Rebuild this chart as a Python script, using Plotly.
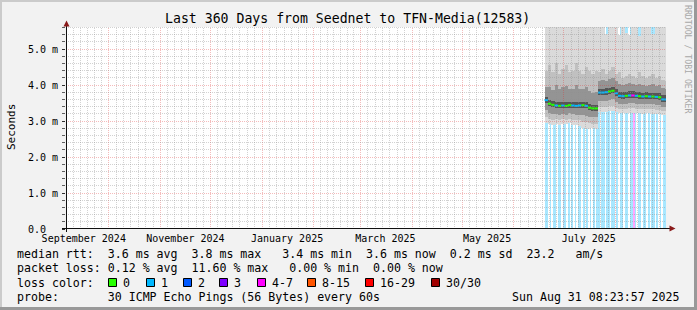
import math
import pandas as pd
import plotly.graph_objects as go

# ---------------- data ----------------
TITLE = "Last 360 Days from Seednet to TFN-Media(12583)"
Y_TITLE = "Seconds"
SIDE_TEXT = "RRDTOOL / TOBI OETIKER"
RANGE_START = "2024-09-05 08:23:57"
RANGE_END = "2025-08-31 08:23:57"
X_TICK_DATES = ["2024-09-16", "2024-11-16", "2025-01-16", "2025-03-16", "2025-05-16", "2025-07-16"]
X_TICK_TEXT = ["September 2024", "November 2024", "January 2025", "March 2025", "May 2025", "July 2025"]
Y_TICK_VALS = [0, 1, 2, 3, 4, 5]
Y_TICK_TEXT = ["0.0\u00a0\u00a0", "1.0 m", "2.0 m", "3.0 m", "4.0 m", "5.0 m"]

SERIES_START = "2025-06-19 12:00"   # first sample
SMOKE_STEP_DAYS = 2                 # median / smoke resolution
LOSS_STEP_DAYS = 1                  # loss background resolution

# median RTT (ms), one value per 2 days
median_ms = [3.58, 3.48, 3.45, 3.43, 3.42, 3.43, 3.42, 3.44, 3.43, 3.42, 3.43, 3.44, 3.42, 3.37, 3.35, 3.35,
             3.79, 3.79, 3.80, 3.82, 3.84, 3.77, 3.70, 3.69, 3.70, 3.71, 3.71, 3.70, 3.69, 3.68, 3.69, 3.68,
             3.68, 3.67, 3.66, 3.60, 3.60]
# loss class of the median line (index into LOSS_LABELS)
median_loss = [1, 0, 0, 1, 0, 1, 0, 0, 1, 1, 1, 0, 1, 0, 0, 0,
               1, 1, 1, 0, 0, 1, 1, 1, 0, 1, 4, 1, 0, 1, 0, 1, 0, 1, 0, 1, 1]
# smoke envelopes (ms): outermost (lo1/hi1) to innermost (lo4/hi4)
smoke_lo1 = [2.95, 2.92, 2.90, 2.92, 2.90, 2.93, 2.92, 2.95, 2.90, 2.88, 2.85, 2.80, 2.78, 2.78, 2.80, 2.78,
             3.25, 3.26, 3.25, 3.27, 3.28, 3.24, 3.22, 3.22, 3.21, 3.23, 3.23, 3.22, 3.22, 3.20, 3.22, 3.21,
             3.20, 3.20, 3.20, 3.18, 3.18]
smoke_hi1 = [6.20, 6.00, 6.10, 5.90, 6.20, 6.00, 6.10, 6.00, 5.90, 6.20, 6.00, 6.10, 6.00, 6.20, 6.00, 5.90,
             6.10, 6.00, 5.42, 6.00, 6.10, 6.00, 5.38, 6.00, 5.45, 5.40, 6.00, 6.10, 5.35, 6.00, 6.10, 6.00,
             5.42, 6.00, 6.10, 6.00, 6.00]
smoke_lo2 = [3.10, 3.05, 3.04, 3.05, 3.03, 3.05, 3.04, 3.06, 3.04, 3.02, 3.02, 2.98, 2.96, 2.94, 2.93, 2.93,
             3.38, 3.40, 3.40, 3.42, 3.42, 3.37, 3.33, 3.33, 3.33, 3.35, 3.35, 3.33, 3.33, 3.32, 3.33, 3.32,
             3.32, 3.31, 3.31, 3.28, 3.28]
smoke_hi2 = [4.40, 4.55, 4.35, 4.60, 4.30, 4.45, 4.55, 4.35, 4.40, 4.60, 4.40, 4.30, 4.50, 4.40, 4.30, 4.40,
             4.35, 4.45, 4.30, 4.40, 4.50, 4.30, 4.35, 4.20, 4.25, 4.30, 4.25, 4.20, 4.35, 4.25, 4.20, 4.25,
             4.30, 4.20, 4.25, 4.15, 4.10]
smoke_lo3 = [3.30, 3.22, 3.20, 3.19, 3.18, 3.19, 3.18, 3.21, 3.19, 3.17, 3.18, 3.17, 3.15, 3.12, 3.10, 3.10,
             3.55, 3.56, 3.56, 3.58, 3.60, 3.53, 3.48, 3.47, 3.48, 3.49, 3.49, 3.48, 3.47, 3.46, 3.47, 3.46,
             3.46, 3.45, 3.44, 3.40, 3.40]
smoke_hi3 = [3.95, 3.95, 3.85, 4.00, 3.90, 3.95, 3.98, 3.88, 3.90, 4.00, 3.90, 3.88, 3.95, 3.82, 3.78, 3.80,
             4.12, 4.15, 4.12, 4.18, 4.20, 4.10, 4.02, 4.00, 4.02, 4.05, 4.02, 4.00, 4.02, 4.00, 3.98, 4.00,
             4.02, 3.98, 4.00, 3.92, 3.90]
smoke_lo4 = [3.50, 3.41, 3.38, 3.36, 3.35, 3.36, 3.35, 3.37, 3.36, 3.35, 3.36, 3.37, 3.35, 3.30, 3.28, 3.28,
             3.72, 3.72, 3.73, 3.75, 3.77, 3.70, 3.63, 3.62, 3.63, 3.64, 3.64, 3.63, 3.62, 3.61, 3.62, 3.61,
             3.61, 3.60, 3.59, 3.53, 3.53]
smoke_hi4 = [3.68, 3.58, 3.55, 3.53, 3.52, 3.53, 3.52, 3.54, 3.53, 3.52, 3.53, 3.54, 3.52, 3.47, 3.45, 3.45,
             3.90, 3.90, 3.91, 3.93, 3.95, 3.88, 3.81, 3.80, 3.81, 3.82, 3.82, 3.81, 3.80, 3.79, 3.80, 3.79,
             3.79, 3.78, 3.77, 3.71, 3.71]
# daily loss class for the background bars (0 = none)
loss_daily = [1, 1, 0, 1, 0, 1, 1, 0, 1, 1, 0, 1, 1, 0, 1, 0, 1, 0, 1, 0, 1, 1, 0, 1, 0, 1, 0, 1, 0, 1, 0, 1,
              1, 0, 1, 1, 0, 1, 1, 0, 1, 1, 0, 1, 0, 1, 1, 0, 1, 1, 0, 1, 1, 4, 1, 0, 1, 1, 0, 1, 1, 0, 1, 0,
              1, 1, 0, 1, 0, 1, 0, 1, 1]

LOSS_LABELS = ["0", "1", "2", "3", "4-7", "8-15", "16-29", "30/30"]
LOSS_COLORS = ["#26ff00", "#00b8ff", "#0059ff", "#7e00ff", "#ff00ff", "#ff5500", "#ff0000", "#a10000"]
LOSS_PALE = ["rgba(38,255,0,0.35)", "rgba(0,184,255,0.34)", "rgba(0,89,255,0.34)", "rgba(126,0,255,0.34)",
             "rgba(255,0,255,0.34)", "rgba(255,85,0,0.34)", "rgba(255,0,0,0.34)", "rgba(161,0,0,0.34)"]

INFO_LINES = [
    "median rtt:  3.6 ms avg  3.8 ms max   3.4 ms min  3.6 ms now  0.2 ms sd  23.2   am/s",
    "packet loss: 0.12 % avg  11.60 % max   0.00 % min  0.00 % now",
    "loss color:",
    "probe:       30 ICMP Echo Pings (56 Bytes) every 60s",
]
STAMP = "Sun Aug 31 08:23:57 2025"

# ---------------- geometry / style ----------------
W, H = 697, 310
PL, PR, PT, PB = 66, 666, 27, 229     # plot box in pixels
YMAX = (PB - PT) / 36.0               # 36 px per ms
FONT = "DejaVu Sans Mono"
SMOKE_COLORS = ["#dadada", "#c0c0c0", "#949494", "#565656"]
GRID_MINOR = "rgba(143,143,143,0.40)"
GRID_MAJOR = "rgba(222,48,48,0.33)"
ARROW = "#8a1a1a"


def fx(p):
    return (p - PL) / (PR - PL)


def fy(p):
    return (PB - p) / (PB - PT)


x0 = pd.Timestamp(RANGE_START)
x1 = pd.Timestamp(RANGE_END)


def xpix(t):
    return PL + (t - x0) / (x1 - x0) * (PR - PL)


t_start = pd.Timestamp(SERIES_START)
sstep = pd.Timedelta(days=SMOKE_STEP_DAYS)
lstep = pd.Timedelta(days=LOSS_STEP_DAYS)
smoke_x = [t_start + sstep * k + sstep / 2 for k in range(len(median_ms))]
loss_x = [t_start + lstep * i + lstep / 2 for i in range(len(loss_daily))]

fig = go.Figure()

# loss background bars
lx = [loss_x[i] for i, v in enumerate(loss_daily) if v > 0]
lc = [LOSS_PALE[v] for v in loss_daily if v > 0]
fig.add_trace(go.Bar(x=lx, y=[YMAX] * len(lx), base=0, width=lstep.total_seconds() * 1000,
                     marker=dict(color=lc, line=dict(width=0)), hoverinfo="skip"))

# smoke bands
bands = [(smoke_lo1, smoke_hi1), (smoke_lo2, smoke_hi2), (smoke_lo3, smoke_hi3), (smoke_lo4, smoke_hi4)]
for (lo, hi), col in zip(bands, SMOKE_COLORS):
    fig.add_trace(go.Bar(x=smoke_x, base=lo, y=[h - l for l, h in zip(lo, hi)],
                         width=sstep.total_seconds() * 1000,
                         marker=dict(color=col, line=dict(width=0)), hoverinfo="skip"))

# median line coloured by loss
for c in sorted(set(median_loss)):
    xs, ys = [], []
    for k, (m, lcl) in enumerate(zip(median_ms, median_loss)):
        if lcl == c:
            xs += [t_start + sstep * k, t_start + sstep * (k + 1), None]
            ys += [m, m, None]
    fig.add_trace(go.Scatter(x=xs, y=ys, mode="lines", line=dict(color=LOSS_COLORS[c], width=2),
                             hoverinfo="skip", connectgaps=False))

shapes = []


def vline(xp, color):
    shapes.append(dict(type="line", xref="paper", yref="paper", x0=fx(xp), x1=fx(xp), y0=0, y1=1,
                       line=dict(color=color, width=1, dash="1px,1px"), layer="above"))


def hline(yp, color):
    shapes.append(dict(type="line", xref="paper", yref="paper", x0=0, x1=1, y0=fy(yp), y1=fy(yp),
                       line=dict(color=color, width=1, dash="1px,1px"), layer="above"))


# vertical grid
months = pd.date_range("2024-09-01", "2025-09-01", freq="MS")
for a, b in zip(months[:-1], months[1:]):
    for j in range(1, 7):
        t = a + (b - a) * j / 7
        if x0 < t < x1:
            vline(math.floor(xpix(t)) + 0.5, GRID_MINOR)
for a in months:
    if x0 < a < x1:
        vline(math.floor(xpix(a)) + 0.5, GRID_MAJOR)

# horizontal grid
for i in range(1, 29):
    v = i * 0.2
    yp = math.floor(PB - 36 * v) + 0.5
    hline(yp, GRID_MAJOR if i % 5 == 0 else GRID_MINOR)

# axes and arrows
shapes.append(dict(type="line", xref="paper", yref="paper", x0=fx(62), x1=fx(670), y0=fy(228.5), y1=fy(228.5),
                   line=dict(color="#101010", width=1), layer="above"))
shapes.append(dict(type="line", xref="paper", yref="paper", x0=fx(66.5), x1=fx(66.5), y0=fy(232), y1=fy(25),
                   line=dict(color="#101010", width=1), layer="above"))
shapes.append(dict(type="path", xref="paper", yref="paper",
                   path=f"M {fx(63.5)} {fy(26.5)} L {fx(69.5)} {fy(26.5)} L {fx(66.5)} {fy(20.5)} Z",
                   fillcolor=ARROW, line=dict(width=0), layer="above"))
shapes.append(dict(type="path", xref="paper", yref="paper",
                   path=f"M {fx(669.5)} {fy(225.5)} L {fx(669.5)} {fy(231.5)} L {fx(675.5)} {fy(228.5)} Z",
                   fillcolor=ARROW, line=dict(width=0), layer="above"))

# frame shading
shapes += [
    dict(type="rect", xref="paper", yref="paper", x0=fx(0), x1=fx(W), y0=fy(0), y1=fy(2),
         fillcolor="#cbcbcb", line=dict(width=0), layer="above"),
    dict(type="rect", xref="paper", yref="paper", x0=fx(0), x1=fx(2), y0=fy(0), y1=fy(H),
         fillcolor="#cbcbcb", line=dict(width=0), layer="above"),
    dict(type="rect", xref="paper", yref="paper", x0=fx(0), x1=fx(W), y0=fy(H - 3), y1=fy(H),
         fillcolor="#999999", line=dict(width=0), layer="above"),
    dict(type="rect", xref="paper", yref="paper", x0=fx(W - 3), x1=fx(W), y0=fy(0), y1=fy(H),
         fillcolor="#999999", line=dict(width=0), layer="above"),
]

# legend boxes
LEGEND_BOX_X = [108, 146, 183, 219, 257, 307, 365, 431]
annotations = []
for bx, col, lab in zip(LEGEND_BOX_X, LOSS_COLORS, LOSS_LABELS):
    shapes.append(dict(type="rect", xref="paper", yref="paper", x0=fx(bx + 0.5), x1=fx(bx + 8.5),
                       y0=fy(278.5), y1=fy(286.5), fillcolor=col, line=dict(color="#000000", width=1),
                       layer="above"))
    annotations.append(dict(text=lab, xref="paper", yref="paper", x=fx(bx + 13), y=fy(282.5),
                            xanchor="left", yanchor="middle", showarrow=False,
                            font=dict(family=FONT, size=11.6, color="#000000")))

INFO_Y = [254, 268, 282.5, 296.5]
for txt, yy in zip(INFO_LINES, INFO_Y):
    annotations.append(dict(text=txt.replace(" ", "\u00a0"), xref="paper", yref="paper", x=fx(15),
                            y=fy(yy), xanchor="left", yanchor="middle", showarrow=False,
                            font=dict(family=FONT, size=11.6, color="#000000")))
annotations.append(dict(text=STAMP.replace(" ", "\u00a0"), xref="paper", yref="paper", x=fx(682),
                        y=fy(296.5), xanchor="right", yanchor="middle", showarrow=False,
                        font=dict(family=FONT, size=11.6, color="#000000")))
annotations.append(dict(text=Y_TITLE, xref="paper", yref="paper", x=fx(11), y=fy(127), textangle=-90,
                        xanchor="center", yanchor="middle", showarrow=False,
                        font=dict(family=FONT, size=11, color="#000000")))
annotations.append(dict(text=SIDE_TEXT.replace(" ", "\u00a0"), xref="paper", yref="paper", x=fx(688.5),
                        y=fy(59.5), textangle=90, xanchor="center", yanchor="middle", showarrow=False,
                        font=dict(family=FONT, size=8.2, color="#a8a8a8")))
annotations.append(dict(text=TITLE, xref="paper", yref="paper", x=fx(347.5), y=fy(18.5),
                        xanchor="center", yanchor="middle", showarrow=False,
                        font=dict(family=FONT, size=13.2, color="#000000")))

fig.update_layout(
    width=W, height=H, margin=dict(l=PL, r=W - PR, t=PT, b=H - PB, pad=0),
    paper_bgcolor="#f2f2f2", plot_bgcolor="#ffffff", showlegend=False, barmode="overlay",
    bargap=0,
    xaxis=dict(type="date", range=[RANGE_START, RANGE_END], tickmode="array", tickvals=X_TICK_DATES,
               ticktext=X_TICK_TEXT, showgrid=False, zeroline=False, showline=False, ticks="",
               tickfont=dict(family=FONT, size=10, color="#000000"), ticklabelstandoff=2, fixedrange=True),
    yaxis=dict(range=[0, YMAX], tickmode="array", tickvals=Y_TICK_VALS, ticktext=Y_TICK_TEXT,
               showgrid=False, zeroline=False, showline=False, ticks="outside", ticklen=3,
               tickcolor="#303030", tickwidth=1,
               minor=dict(dtick=0.2, tick0=0, ticks="outside", ticklen=3, tickcolor="#606060", showgrid=False),
               tickfont=dict(family=FONT, size=10, color="#000000"), ticklabelstandoff=2, fixedrange=True),
    shapes=shapes, annotations=annotations,
)

fig.write_html("out.html", include_plotlyjs=True, config={"displayModeBar": False, "staticPlot": True})
